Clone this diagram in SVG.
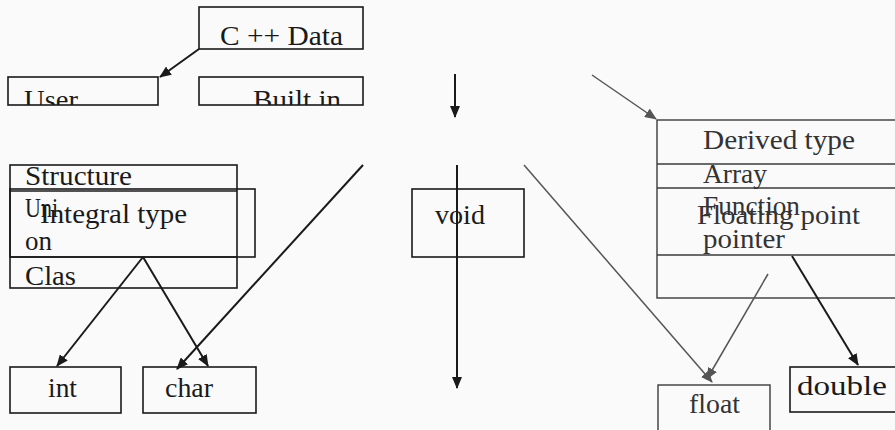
<svg xmlns="http://www.w3.org/2000/svg" width="895" height="430" viewBox="0 0 895 430">
<style>
.bx{fill:none;stroke:#1a1a1a;stroke-width:1.6}
.gbx{fill:none;stroke:#3a3a3a;stroke-width:1.4}
.t{font-family:"Liberation Serif","Times New Roman",Times,serif;font-size:27px;fill:#1a1a1a}
.gt{font-family:"Liberation Serif","Times New Roman",Times,serif;font-size:27px;fill:#333}
.c{fill:none;stroke:#1a1a1a;stroke-width:2}
.gc{fill:none;stroke:#555;stroke-width:1.5}
</style>
<defs>
<marker id="ah" markerWidth="12" markerHeight="10" refX="11" refY="5" orient="auto" markerUnits="userSpaceOnUse"><path d="M0,0 L12,5 L0,10 Z" fill="#1a1a1a"/></marker>
<marker id="gah" markerWidth="12" markerHeight="10" refX="11" refY="5" orient="auto" markerUnits="userSpaceOnUse"><path d="M0,0 L12,5 L0,10 Z" fill="#555"/></marker>
<clipPath id="cu"><rect x="8" y="77" width="150" height="28"/></clipPath>
<clipPath id="cb"><rect x="199" y="77" width="164" height="28"/></clipPath>
</defs>
<rect width="895" height="430" fill="#fbfafb"/>
<g id="cppdata"><rect class="bx" x="199" y="7" width="164" height="42"/><text class="t" x="220" y="45" textLength="123" lengthAdjust="spacingAndGlyphs">C ++ Data</text></g>
<g id="user"><rect class="bx" x="8" y="77" width="150" height="28"/><text class="t" x="24" y="109" clip-path="url(#cu)" textLength="54" lengthAdjust="spacingAndGlyphs">User</text></g>
<g id="builtin"><rect class="bx" x="199" y="77" width="164" height="28"/><text class="t" x="253" y="109" clip-path="url(#cb)" textLength="88" lengthAdjust="spacingAndGlyphs">Built in</text></g>
<g id="structure"><rect class="bx" x="10" y="165" width="227" height="123"/><line class="bx" x1="10" y1="191" x2="237" y2="191"/><line class="bx" x1="10" y1="257" x2="237" y2="257"/>
<text class="t" x="25" y="185" textLength="107" lengthAdjust="spacingAndGlyphs">Structure</text>
<text class="t" x="25" y="217" textLength="33" lengthAdjust="spacingAndGlyphs">Uni</text>
<text class="t" x="25" y="250" textLength="27" lengthAdjust="spacingAndGlyphs">on</text>
<text class="t" x="25" y="285" textLength="51" lengthAdjust="spacingAndGlyphs">Clas</text></g>
<g id="integral"><rect class="bx" x="10" y="189" width="245" height="68"/><text class="t" x="40" y="223" font-size="29" textLength="147" lengthAdjust="spacingAndGlyphs">Integral type</text></g>
<g id="void"><rect class="bx" x="412" y="189" width="112" height="68"/><text class="t" x="435" y="224" textLength="50" lengthAdjust="spacingAndGlyphs">void</text></g>
<g id="int"><rect class="bx" x="10" y="367" width="111" height="46"/><text class="t" x="48" y="397" textLength="29" lengthAdjust="spacingAndGlyphs">int</text></g>
<g id="char"><rect class="bx" x="143" y="367" width="113" height="46"/><text class="t" x="165" y="397" textLength="48" lengthAdjust="spacingAndGlyphs">char</text></g>
<g id="derived"><rect class="gbx" x="657" y="120" width="260" height="178"/><line class="gbx" x1="657" y1="164" x2="895" y2="164"/><line class="gbx" x1="657" y1="188" x2="895" y2="188"/><line class="gbx" x1="657" y1="255" x2="895" y2="255"/>
<text class="gt" x="703" y="149" textLength="152" lengthAdjust="spacingAndGlyphs">Derived type</text>
<text class="gt" x="703" y="183" textLength="64" lengthAdjust="spacingAndGlyphs">Array</text>
<text class="gt" x="703" y="215" textLength="97" lengthAdjust="spacingAndGlyphs">Function</text>
<text class="gt" x="697" y="224" font-size="28" textLength="163" lengthAdjust="spacingAndGlyphs">Floating point</text>
<text class="gt" x="703" y="248" textLength="82" lengthAdjust="spacingAndGlyphs">pointer</text></g>
<g id="float"><rect class="gbx" x="658" y="385" width="112" height="60"/><text class="gt" x="689" y="413" textLength="51" lengthAdjust="spacingAndGlyphs">float</text></g>
<g id="double"><rect class="bx" x="790" y="367" width="120" height="45"/><text class="t" x="797" y="395" textLength="90" lengthAdjust="spacingAndGlyphs">double</text></g>
<g id="connectors">
<line class="c" x1="199" y1="49" x2="160" y2="77" marker-end="url(#ah)"/>
<line class="c" x1="455" y1="74" x2="455" y2="117" marker-end="url(#ah)"/>
<line class="gc" x1="592" y1="75" x2="656" y2="119" marker-end="url(#gah)"/>
<line class="c" x1="143" y1="257" x2="57" y2="366" marker-end="url(#ah)"/>
<line class="c" x1="143" y1="257" x2="208" y2="366" marker-end="url(#ah)"/>
<line class="c" x1="363" y1="165" x2="177" y2="369" marker-end="url(#ah)"/>
<line class="c" x1="457" y1="165" x2="457" y2="388" marker-end="url(#ah)"/>
<line class="gc" x1="524" y1="165" x2="712" y2="382" marker-end="url(#gah)"/>
<line class="gc" x1="768" y1="274" x2="707" y2="379" marker-end="url(#gah)"/>
<line class="c" x1="792" y1="256" x2="858" y2="365" marker-end="url(#ah)"/>
</g>
</svg>
